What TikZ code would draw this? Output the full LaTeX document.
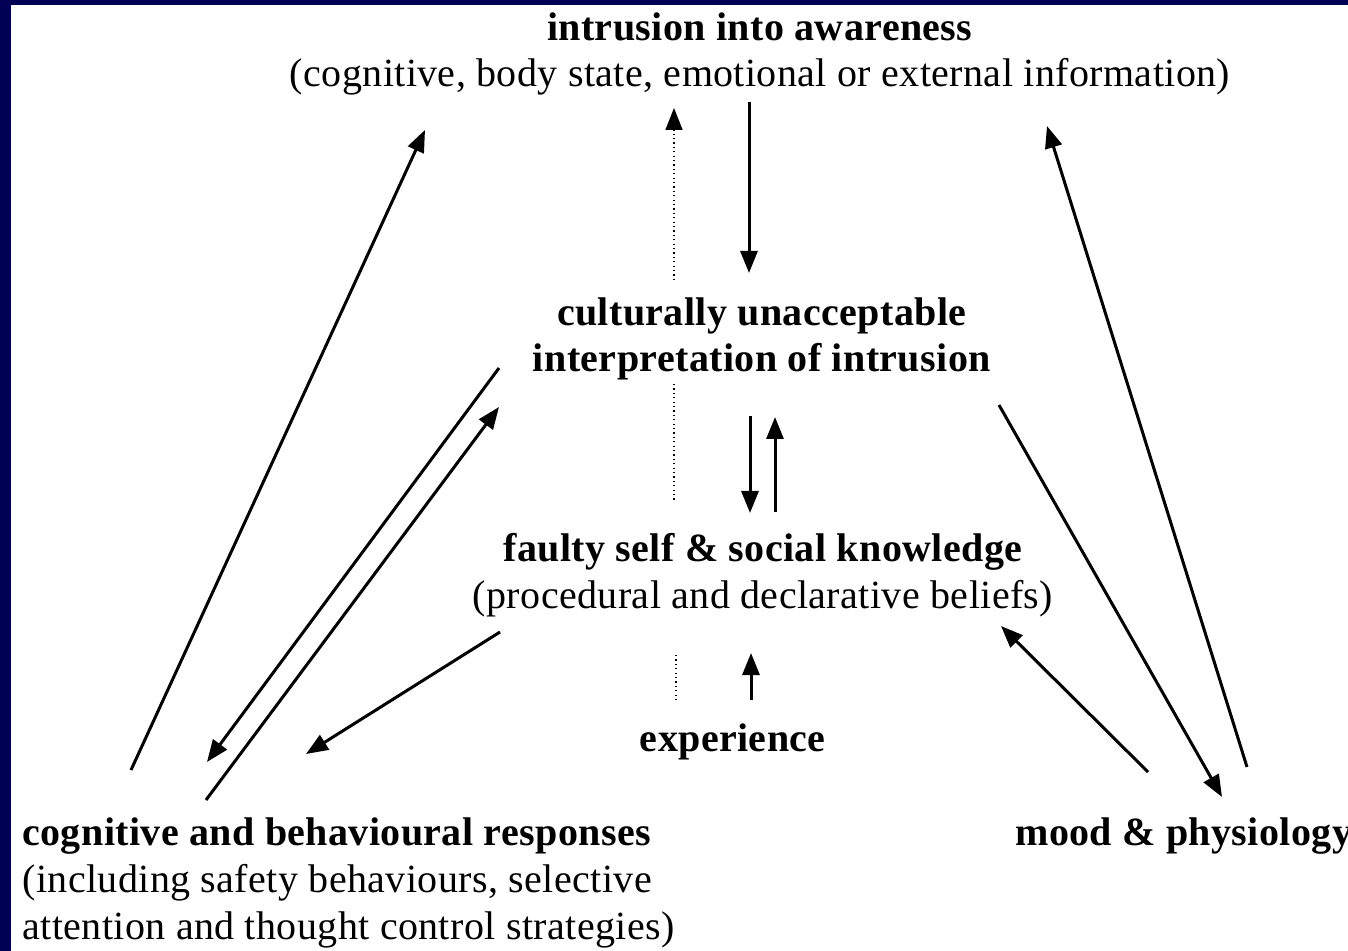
\documentclass[tikz,border=0pt]{standalone}
\usepackage{fontspec}
\setmainfont[LetterSpace=1]{Liberation Serif}
\usetikzlibrary{arrows.meta}
\definecolor{navy}{RGB}{0,0,85}

\begin{document}
\begin{tikzpicture}[x=0.5pt, y=-0.5pt,
        txt/.style={font=\fontsize{20}{23.2}\selectfont, inner sep=0pt},
        link/.style={line width=1.5pt, -{Triangle[length=11pt, width=8.5pt]}},
        hint/.style={line width=0.8pt, dash pattern=on 0.6pt off 1.6pt},
        hintlink/.style={hint, -{Triangle[length=11pt, width=8.5pt]}},
    ]

    \useasboundingbox (0,0) rectangle (1348,951);
    \fill[navy] (0,0) rectangle (1348,951);
    \fill[white] (11,5) rectangle (1348,951);

    \node[txt, align=center] (awareness) at (760,54)
        {\textbf{intrusion into awareness}\\(cognitive, body state, emotional or external information)};
    \node[txt, align=center] (interpretation) at (762,339)
        {\textbf{culturally unacceptable}\\\textbf{interpretation of intrusion}};
    \node[txt, align=center] (knowledge) at (763,575)
        {\textbf{faulty self \& social knowledge}\\(procedural and declarative beliefs)};
    \node[txt] (experience) at (733,742) {\textbf{experience}};
    \node[txt, align=left, anchor=west, font=\fontsize{20}{23.5}\selectfont] (responses) at (22,883)
        {\textbf{cognitive and behavioural responses}\\(including safety behaviours, selective\\attention and thought control strategies)};
    \node[txt, anchor=west] (mood) at (1015,836) {\textbf{mood \& physiology}};

    % left side
    \coordinate (rA) at (131,770);  \coordinate (aA) at (425,130);
    \coordinate (iB) at (499,368);  \coordinate (rB) at (207,762);
    \coordinate (rC) at (206,800);  \coordinate (iC) at (499,407);
    \coordinate (kD) at (500,632);  \coordinate (rD) at (306,754);
    % centre
    \coordinate (aE) at (749,102);  \coordinate (iE) at (749,273);
    \coordinate (iF) at (750,416);  \coordinate (kF) at (750,513);
    \coordinate (kG) at (775,512);  \coordinate (iG) at (775,417);
    \coordinate (eH) at (751,700);  \coordinate (kH) at (751,653);
    \coordinate (d1) at (674,280);  \coordinate (d2) at (674,108);
    \coordinate (d3) at (674,384);  \coordinate (d4) at (674,502);
    \coordinate (d5) at (676,655);  \coordinate (d6) at (676,702);
    % right side
    \coordinate (mI) at (1148,772); \coordinate (kI) at (1001,626);
    \coordinate (iJ) at (999,405);  \coordinate (mJ) at (1222,797);
    \coordinate (mK) at (1247,767); \coordinate (aK) at (1047,126);

    \path
    (rA) edge[link] (aA)
    (iB) edge[link] (rB)
    (rC) edge[link] (iC)
    (kD) edge[link] (rD)
    (aE) edge[link] (iE)
    (iF) edge[link] (kF)
    (kG) edge[link] (iG)
    (eH) edge[link] (kH)
    (mI) edge[link] (kI)
    (iJ) edge[link] (mJ)
    (mK) edge[link] (aK)
    ;

    \path
    (d1) edge[hintlink] (d2)
    (d3) edge[hint] (d4)
    (d5) edge[hint] (d6)
    ;
\end{tikzpicture}
\end{document}
